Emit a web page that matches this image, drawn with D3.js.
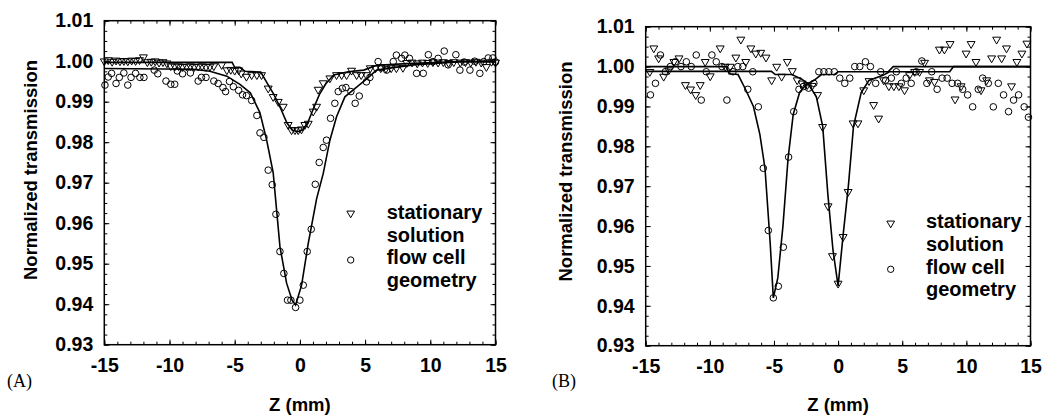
<!DOCTYPE html>
<html lang="en">
<head>
<meta charset="UTF-8">
<title>Normalized transmission</title>
<script src="https://cdn.jsdelivr.net/npm/d3@7"></script>
<style>
  body { margin: 0; background: #fff; }
  svg text { font-family: "Liberation Sans", Arial, Helvetica, sans-serif; font-weight: bold; fill: #000; }
  svg text.tag { font-family: "Liberation Serif", "Times New Roman", serif; font-weight: normal; }
</style>
</head>
<body>
<svg width="1042" height="418"></svg>
<script>
// tick labels
var xTicks = [-15, -10, -5, 0, 5, 10, 15];
var yTicks = [0.93, 0.94, 0.95, 0.96, 0.97, 0.98, 0.99, 1.00, 1.01];
var legendLabels = [['stationary', 'solution'], ['flow cell', 'geometry']];

// panel A - stationary solution (triangles)
var aStat = [[-15.0,1.0000],[-14.7,1.0003],[-14.4,0.9999],[-14.1,1.0002],[-13.8,1.0000],[-13.5,1.0001],[-13.2,1.0000],[-12.9,1.0002],[-12.6,1.0001],[-12.3,1.0003],[-12.0,1.0010],[-11.7,0.9998],[-11.4,0.9999],[-11.1,1.0000],[-10.8,0.9997],[-10.5,0.9998],[-10.2,0.9995],[-9.9,0.9988],[-9.6,0.9987],[-9.3,0.9988],[-9.0,0.9986],[-8.7,0.9987],[-8.4,0.9988],[-8.1,0.9986],[-7.8,0.9987],[-7.5,0.9988],[-7.2,0.9986],[-6.9,0.9987],[-6.6,0.9988],[-6.0,0.9991],[-5.6,0.9978],[-5.3,0.9979],[-5.0,0.9977],[-4.7,0.9978],[-4.5,0.9970],[-4.1,0.9962],[-3.7,0.9966],[-3.3,0.9966],[-2.94,0.9966],[-2.43,0.9933],[-2.05,0.9912],[-1.66,0.9900],[-1.28,0.9888],[-0.9,0.9843],[-0.64,0.9830],[-0.38,0.9830],[-0.13,0.9830],[0.12,0.9832],[0.38,0.9843],[0.64,0.9846],[1.02,0.9876],[1.28,0.9888],[1.4,0.9930],[1.79,0.9946],[2.3,0.9958],[2.81,0.9966],[3.2,0.9966],[3.58,0.9966],[3.96,0.9977],[4.35,0.9966],[4.7,0.9966],[5.1,0.9966],[5.4,0.9983],[5.8,0.9983],[6.2,0.9983],[6.6,0.9982],[7.0,0.9983],[7.4,0.9983],[7.9,0.9984],[8.2,0.9996],[8.6,0.9997],[9.0,0.9995],[9.4,0.9997],[9.8,0.9996],[10.2,0.9998],[10.6,0.9997],[11.0,0.9998],[11.4,0.9996],[11.8,0.9998],[12.3,0.9997],[12.7,0.9998],[13.1,0.9997],[13.5,0.9999],[13.9,0.9997],[14.3,0.9986],[14.7,0.9999],[15.0,0.9997]];
// panel A - flow cell geometry (circles)
var aFlow = [[-14.95,0.9941],[-14.7,0.9961],[-14.44,0.9970],[-14.1,0.9945],[-13.85,0.9960],[-13.5,0.9971],[-13.2,0.9941],[-12.95,0.9960],[-12.6,0.9970],[-12.27,0.9960],[-11.96,0.9960],[-11.17,0.9978],[-10.9,0.9969],[-10.27,0.9951],[-9.9,0.9943],[-9.6,0.9943],[-9.4,0.9976],[-9.0,0.9969],[-8.4,0.9971],[-7.8,0.9951],[-7.55,0.9960],[-7.2,0.9960],[-6.6,0.9951],[-6.27,0.9945],[-5.9,0.9935],[-5.7,0.9925],[-5.4,0.9950],[-5.1,0.9937],[-4.7,0.9928],[-4.4,0.9917],[-4.1,0.9915],[-3.7,0.9903],[-3.3,0.9866],[-3.06,0.9823],[-2.76,0.9812],[-2.43,0.9731],[-2.12,0.9695],[-1.84,0.9622],[-1.53,0.9530],[-1.23,0.9476],[-0.95,0.9410],[-0.69,0.9410],[-0.33,0.9392],[0.0,0.9410],[0.26,0.9447],[0.56,0.9530],[0.87,0.9585],[1.18,0.9696],[1.48,0.9750],[1.79,0.9787],[2.04,0.9805],[2.35,0.9859],[2.68,0.9896],[2.94,0.9925],[3.25,0.9933],[3.53,0.9935],[3.91,0.9925],[4.24,0.9896],[4.55,0.9914],[5.1,0.9949],[5.37,0.9960],[6.0,0.9999],[6.27,0.9984],[6.65,0.9978],[7.16,0.9999],[7.4,1.0015],[7.8,1.0007],[8.05,1.0015],[8.4,1.0007],[8.95,0.9970],[9.46,0.9970],[9.85,1.0016],[10.2,0.9999],[10.6,1.0007],[11.07,1.0025],[11.37,0.9991],[11.96,1.0016],[12.27,0.9978],[12.6,0.9998],[13.04,0.9978],[13.4,1.0000],[13.8,0.9970],[14.1,0.9999],[14.44,1.0008],[14.8,1.0008],[15.0,0.9998]];
// panel A - fitted curves
var aStatFit = [[-15,0.9997],[-5.2,0.9997],[-5.0,0.9985],[-4.6,0.9985],[-4.2,0.9975],[-3.0,0.9973],[-2.5,0.9945],[-2.0,0.9918],[-1.5,0.9885],[-1.0,0.9848],[-0.6,0.9830],[-0.2,0.9826],[0.2,0.9830],[0.6,0.9848],[1.0,0.9880],[1.5,0.9918],[2.0,0.9945],[2.6,0.9966],[3.7,0.9974],[4.9,0.9978],[5.9,0.9990],[8.2,0.9994],[12.3,0.9999],[15,0.9999]];
var aFlowFit = [[-15,0.9982],[-8.2,0.9980],[-6.9,0.9975],[-5.6,0.9963],[-4.6,0.9943],[-3.8,0.9922],[-3.07,0.9873],[-2.56,0.9807],[-2.05,0.9725],[-1.53,0.9542],[-1.02,0.9452],[-0.6,0.9410],[-0.33,0.9398],[0.13,0.9447],[0.64,0.9550],[1.28,0.9660],[1.79,0.9723],[2.3,0.9805],[2.81,0.9863],[3.45,0.9912],[4.35,0.9936],[5.1,0.9956],[5.88,0.9978],[6.9,0.9983],[8.7,0.9991],[12.3,0.9999],[15,0.9999]];

// panel B - stationary solution (triangles)
var bStat = [[-14.68,0.9987],[-14.37,1.0046],[-13.99,1.0021],[-13.6,0.9975],[-13.2,0.9991],[-12.8,1.0012],[-12.4,1.0021],[-11.9,0.9954],[-11.5,0.9943],[-11.1,0.9929],[-10.75,0.9954],[-10.36,1.0012],[-9.97,0.9976],[-9.19,1.0046],[-8.8,1.0000],[-8.41,1.0000],[-7.97,1.0023],[-7.58,1.0068],[-7.2,1.0012],[-6.8,1.0046],[-6.42,1.0033],[-6.03,1.0035],[-5.62,1.0023],[-5.18,0.9966],[-4.79,1.0000],[-4.4,0.9975],[-3.96,1.0012],[-3.57,0.9989],[-3.19,0.9966],[-2.8,0.9958],[-2.41,0.9954],[-2.02,0.9952],[-1.6,0.9929],[-1.21,0.9849],[-0.78,0.9650],[-0.44,0.9525],[0.0,0.9456],[0.39,0.9573],[0.78,0.9686],[1.17,0.9858],[1.55,0.9858],[2.0,0.9941],[2.41,0.9964],[2.77,0.9904],[3.16,0.9870],[3.55,0.9966],[3.96,0.9951],[4.35,0.9951],[4.74,0.9951],[5.18,0.9941],[5.57,0.9979],[5.96,0.9987],[6.35,0.9987],[6.74,1.0010],[7.12,0.9966],[7.51,0.9962],[7.9,1.0043],[8.29,1.0043],[8.73,1.0057],[9.12,0.9918],[9.59,0.9951],[9.98,1.0033],[10.37,1.0057],[10.75,1.0012],[11.14,0.9941],[11.58,0.9966],[11.97,1.0021],[12.36,1.0068],[12.75,1.0021],[13.13,1.0046],[13.52,0.9951],[13.94,1.0012],[14.33,1.0033],[14.72,1.0058]];
// panel B - flow cell geometry (circles)
var bFlow = [[-14.63,0.9929],[-14.24,0.9958],[-13.85,1.0029],[-13.47,0.9987],[-13.08,1.0000],[-12.69,1.0012],[-12.25,1.0000],[-11.83,1.0012],[-11.45,1.0000],[-11.06,1.0029],[-10.67,0.9916],[-10.28,0.9987],[-9.84,1.0029],[-9.5,1.0012],[-9.06,1.0000],[-8.67,0.9916],[-8.2,0.9987],[-7.82,1.0000],[-7.43,1.0000],[-7.04,0.9943],[-6.65,0.9987],[-6.22,0.9899],[-5.83,0.9745],[-5.44,0.9589],[-5.05,0.9420],[-4.66,0.9449],[-4.27,0.9547],[-3.86,0.9773],[-3.46,0.9887],[-3.05,0.9943],[-2.7,0.9950],[-2.3,0.9946],[-1.89,0.9958],[-1.5,0.9987],[-1.11,0.9987],[-0.72,0.9987],[-0.3,0.9987],[0.13,0.9971],[0.52,0.9958],[0.91,0.9971],[1.3,1.0000],[1.69,1.0000],[2.13,1.0012],[2.52,1.0000],[2.93,0.9958],[3.32,0.9987],[3.71,0.9966],[4.15,0.9971],[4.54,0.9987],[4.93,0.9958],[5.31,0.9971],[5.7,0.9958],[6.09,0.9987],[6.53,1.0014],[6.92,0.9958],[7.3,0.9987],[7.72,0.9943],[8.11,0.9971],[8.5,0.9971],[8.89,0.9958],[9.32,0.9958],[9.71,0.9943],[10.1,0.9929],[10.49,0.9899],[10.93,0.9943],[11.27,0.9971],[11.71,0.9958],[12.1,0.9899],[12.49,0.9958],[12.9,0.9929],[13.29,0.9887],[13.68,0.9916],[14.07,0.9929],[14.51,0.9899],[14.84,0.9873]];
// panel B - fitted curves
var bStatFit = [[-15,0.9988],[-5.2,0.9988],[-4.9,0.9980],[-3.6,0.9980],[-2.8,0.9968],[-2.3,0.9955],[-1.7,0.9925],[-1.2,0.9850],[-0.8,0.9680],[-0.4,0.9540],[0,0.9450],[0.4,0.9580],[0.8,0.9700],[1.2,0.9850],[1.8,0.9935],[2.4,0.9965],[3.5,0.9978],[4.0,0.9987],[8.7,0.9987],[9.0,1.0000],[15,1.0000]];
var bFlowFit = [[-15,1.0000],[-8.7,1.0000],[-8.5,0.9982],[-7.8,0.9980],[-7.25,0.9945],[-6.6,0.9900],[-6.1,0.9830],[-5.7,0.9745],[-5.3,0.9560],[-5.05,0.9420],[-4.7,0.9470],[-4.3,0.9600],[-3.9,0.9770],[-3.5,0.9880],[-3.0,0.9935],[-2.5,0.9955],[-1.9,0.9965],[-1.3,0.9980],[-0.3,0.9980],[0.0,0.9987],[3.9,0.9987],[4.3,1.0000],[15,1.0000]];

var svg = d3.select('svg');

var tri = d3.symbol().type(d3.symbolTriangle).size(27);
var triLegend = d3.symbol().type(d3.symbolTriangle).size(26);

function drawPanel(p) {
    var x = d3.scaleLinear().domain([-15, 15]).range([p.left, p.right]);
    var y = d3.scaleLinear().domain([0.93, 1.01]).range([p.bottom, p.top]);
    var g = svg.append('g');

    // minor ticks
    var xMinor = d3.range(-15, 15.001, 1);
    var yMinor = d3.range(0, 33).map(function(i){ return 0.93 + i * 0.0025; });

    g.append('g').attr('transform', 'translate(0,' + p.bottom + ')')
        .call(d3.axisBottom(x).tickValues(xMinor).tickSize(-3).tickFormat(''));
    g.append('g').attr('transform', 'translate(0,' + p.top + ')')
        .call(d3.axisTop(x).tickValues(xMinor).tickSize(-3).tickFormat(''));
    g.append('g').attr('transform', 'translate(' + p.left + ',0)')
        .call(d3.axisLeft(y).tickValues(yMinor).tickSize(-3).tickFormat(''));
    g.append('g').attr('transform', 'translate(' + p.right + ',0)')
        .call(d3.axisRight(y).tickValues(yMinor).tickSize(-3).tickFormat(''));

    // major ticks with labels (plain hyphen for negatives, like the original)
    g.append('g').attr('transform', 'translate(0,' + p.bottom + ')')
        .call(d3.axisBottom(x).tickValues(xTicks).tickSize(-5).tickPadding(13)
            .tickFormat(function(d){ return String(d); }));
    g.append('g').attr('transform', 'translate(0,' + p.top + ')')
        .call(d3.axisTop(x).tickValues(xTicks).tickSize(-5).tickFormat(''));
    g.append('g').attr('transform', 'translate(' + p.left + ',0)')
        .call(d3.axisLeft(y).tickValues(yTicks).tickSize(-5).tickPadding(11)
            .tickFormat(function(d){ return d.toFixed(2); }));
    g.append('g').attr('transform', 'translate(' + p.right + ',0)')
        .call(d3.axisRight(y).tickValues(yTicks).tickSize(-5).tickFormat(''));

    g.selectAll('.domain').remove();
    g.selectAll('.tick line').attr('stroke', '#000').attr('stroke-width', 1);
    g.selectAll('.tick text').style('font-size', '19.5px').style('font-family', '"Liberation Sans", Arial, sans-serif').style('font-weight', 'bold');

    // frame
    g.append('rect')
        .attr('x', p.left).attr('y', p.top)
        .attr('width', p.right - p.left).attr('height', p.bottom - p.top)
        .attr('fill', 'none').attr('stroke', '#000').attr('stroke-width', 1.5);

    // fitted curves
    var line = d3.line()
        .x(function(d){ return x(d[0]); })
        .y(function(d){ return y(d[1]); });
    [p.statFit, p.flowFit].forEach(function(c){
        g.append('path').datum(c)
            .attr('d', line)
            .attr('fill', 'none').attr('stroke', '#000').attr('stroke-width', 1.6);
    });

    // data points
    g.selectAll('circle.flow').data(p.flow).enter().append('circle')
        .attr('class', 'flow')
        .attr('cx', function(d){ return x(d[0]); })
        .attr('cy', function(d){ return y(d[1]); })
        .attr('r', 3.3)
        .attr('fill', 'none').attr('stroke', '#000').attr('stroke-width', 1);
    g.selectAll('path.stat').data(p.stat).enter().append('path')
        .attr('class', 'stat')
        .attr('d', tri)
        .attr('transform', function(d){ return 'translate(' + x(d[0]) + ',' + y(d[1]) + ') rotate(180)'; })
        .attr('fill', 'none').attr('stroke', '#000').attr('stroke-width', 1);

    // axis titles
    g.append('text')
        .attr('transform', 'translate(' + p.ytitleX + ',' + p.ytitleY + ') rotate(-90)')
        .attr('text-anchor', 'middle')
        .style('font-size', '18.5px')
        .text('Normalized transmission');
    g.append('text')
        .attr('x', x(0)).attr('y', 411)
        .attr('text-anchor', 'middle')
        .style('font-size', '18.5px')
        .text('Z (mm)');
    g.append('text').attr('class', 'tag')
        .attr('x', p.tagX).attr('y', 387)
        .style('font-size', '18px')
        .text(p.tag);

    // legend
    g.append('path').attr('d', triLegend)
        .attr('transform', 'translate(' + p.legX + ',' + p.legY[0] + ') rotate(180)')
        .attr('fill', 'none').attr('stroke', '#000').attr('stroke-width', 1);
    g.append('circle').attr('cx', p.legX).attr('cy', p.legY[1]).attr('r', 3.2)
        .attr('fill', 'none').attr('stroke', '#000').attr('stroke-width', 1);
    var lines = legendLabels[0].concat(legendLabels[1]);
    g.selectAll('text.leg').data(lines).enter().append('text')
        .attr('class', 'leg')
        .attr('x', p.legTextX)
        .attr('y', function(d, i){ return p.legBase + i * 22.6; })
        .style('font-size', '20px')
        .text(function(d){ return d; });
}

drawPanel({
    left: 104.3, right: 495.5, top: 20.7, bottom: 344.7,
    stat: aStat, flow: aFlow, statFit: aStatFit, flowFit: aFlowFit,
    ytitleX: 37, ytitleY: 170, tag: '(A)', tagX: 7,
    legX: 350.7, legY: [213.3, 260], legTextX: 386.7, legBase: 219
});
drawPanel({
    left: 645.7, right: 1030.5, top: 26.7, bottom: 345.7,
    stat: bStat, flow: bFlow, statFit: bStatFit, flowFit: bFlowFit,
    ytitleX: 572, ytitleY: 171.5, tag: '(B)', tagX: 552,
    legX: 890.7, legY: [223.3, 269.3], legTextX: 926, legBase: 228.3
});
</script>
</body>
</html>
